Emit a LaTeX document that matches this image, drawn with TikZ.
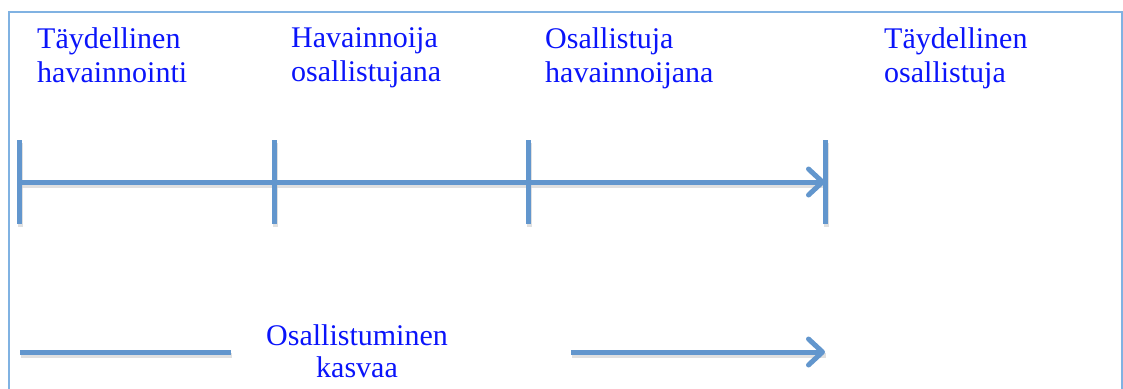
\documentclass[tikz,border=0pt]{standalone}
\usepackage{fontspec}
\setmainfont{Liberation Serif}
\usetikzlibrary{arrows.meta}
\definecolor{linblue}{RGB}{98,150,205}
\definecolor{frameblue}{RGB}{128,178,226}
\definecolor{txtblue}{RGB}{10,20,250}
\tikzset{
  lbl/.style={anchor=north west, inner sep=0pt, align=left, text=txtblue, font=\fontsize{30}{34}\selectfont},
  clbl/.style={anchor=north, inner sep=0pt, align=center, text=txtblue, font=\fontsize{30}{32}\selectfont},
  bar/.style={draw=linblue, line width=5pt},
  shadowbar/.style={draw=black!20, line width=5pt, opacity=0.6},
  tip/.style={-{Straight Barb[length=14pt,width=26pt,round]}}
}
\begin{document}
\begin{tikzpicture}[x=1pt,y=-1pt]
\useasboundingbox (0,0) rectangle (1123,388);
\draw[frameblue, line width=2pt] (9,12) rectangle (1122,400);
% labels
\node[lbl] (l1) at (37,27) {Täydellinen\\havainnointi};
\node[lbl] (l2) at (291,27) {Havainnoija\\osallistujana};
\node[lbl] (l3) at (545,27) {Osallistuja\\havainnoijana};
\node[lbl] (l4) at (884,27) {Täydellinen\\osallistuja};
\node[clbl] (l5) at (357,324.5) {Osallistuminen\\kasvaa};
% timeline coordinates
\coordinate (t1) at (19,182);
\coordinate (t2) at (274,182);
\coordinate (t3) at (528,182);
\coordinate (t4) at (825,182);
\foreach \i in {1,2,3,4} {
  \coordinate (t\i top) at ([yshift=-42pt]t\i);
  \coordinate (t\i bot) at ([yshift=42pt]t\i);
}
% shadows
\begin{scope}[transform canvas={shift={(1pt,-3pt)}}]
\draw[shadowbar] (t1) -- (t4);
\foreach \i in {1,2,3,4} {\draw[shadowbar] (t\i top) -- (t\i bot);}
\end{scope}
% ticks
\foreach \i in {1,2,3,4} {\draw[bar] (t\i top) -- (t\i bot);}
% main arrow
\draw[bar, tip] (t1) -- (t4);
% bottom lines
\coordinate (b1) at (20,352);
\coordinate (b2) at (231,352);
\coordinate (b3) at (571,352);
\coordinate (b4) at (825,352);
\begin{scope}[transform canvas={shift={(1pt,-3pt)}}]
\draw[shadowbar] (b1) -- (b2);
\draw[shadowbar] (b3) -- (b4);
\end{scope}
\draw[bar] (b1) -- (b2);
\draw[bar, tip] (b3) -- (b4);
\end{tikzpicture}
\end{document}
